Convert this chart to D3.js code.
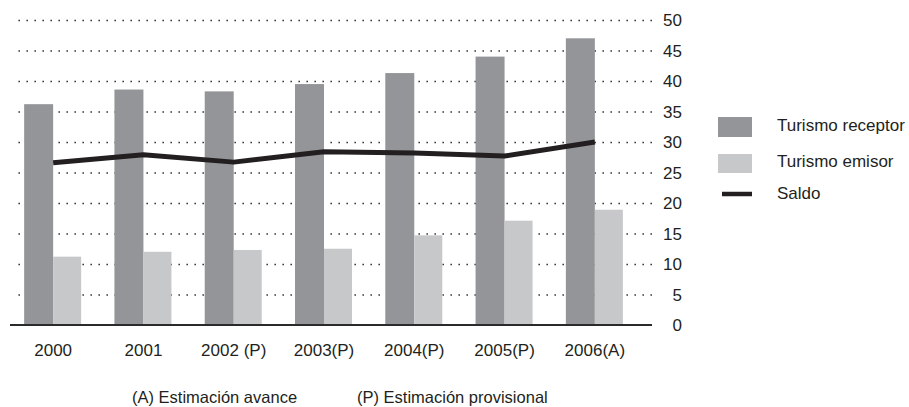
<!DOCTYPE html>
<html>
<head>
<meta charset="utf-8">
<script src="https://cdn.jsdelivr.net/npm/d3@7"></script>
<style>
  html, body { margin: 0; padding: 0; background: #ffffff; }
  svg { display: block; font-family: "Liberation Sans", Arial, Helvetica, sans-serif; }
</style>
</head>
<body>
<svg id="chart" width="909" height="407"></svg>
<script>
// ---- Data ----
const categories = ["2000", "2001", "2002 (P)", "2003(P)", "2004(P)", "2005(P)", "2006(A)"];
const receptor = [36.2, 38.6, 38.3, 39.5, 41.3, 44.0, 47.0];
const emisor   = [11.2, 12.0, 12.3, 12.5, 14.7, 17.1, 18.9];
const saldo    = [26.6, 27.9, 26.7, 28.4, 28.2, 27.7, 30.0];
const yTicks   = [0, 5, 10, 15, 20, 25, 30, 35, 40, 45, 50];
const seriesNames = ["Turismo receptor", "Turismo emisor", "Saldo"];
const footnotes = ["(A) Estimación avance", "(P) Estimación provisional"];

// ---- Styles ----
const colReceptor = "#939598";
const colEmisor = "#c7c8ca";
const colSaldo = "#231f20";
const colText = "#231f20";

const svg = d3.select("#chart");

const x = d3.scaleBand().domain(categories).range([8, 640]).paddingInner(0).paddingOuter(0);
const y = d3.scaleLinear().domain([0, 50]).range([325, 20]);

const gridLeft = 16, gridRight = 652;

// gridlines + right tick labels via axis
const yAxis = d3.axisRight(y)
  .tickValues(yTicks)
  .tickSize(-(gridRight - gridLeft))
  .tickFormat(d3.format("d"));

const gAxis = svg.append("g")
  .attr("transform", `translate(${gridRight},0)`)
  .call(yAxis);
gAxis.select(".domain").remove();
gAxis.selectAll(".tick line")
  .attr("stroke", "#3a3a3a")
  .attr("stroke-width", 1.6)
  .attr("stroke-dasharray", "1.6,6.4")
  .attr("opacity", d => d === 0 ? 0 : 1);
gAxis.selectAll(".tick text")
  .attr("x", 30)
  .attr("dy", "0.35em")
  .attr("text-anchor", "end")
  .attr("fill", colText)
  .style("font-size", "17px")
  .style("font-family", "'Liberation Sans', Arial, sans-serif");

const half = x.bandwidth() / 2;
const wDark = 29, wLight = 28;

// bars
svg.append("g").selectAll("rect")
  .data(categories)
  .join("rect")
  .attr("x", d => x(d) + half - wDark)
  .attr("y", (d, i) => y(receptor[i]))
  .attr("width", wDark)
  .attr("height", (d, i) => y(0) - y(receptor[i]))
  .attr("fill", colReceptor);

svg.append("g").selectAll("rect")
  .data(categories)
  .join("rect")
  .attr("x", d => x(d) + half)
  .attr("y", (d, i) => y(emisor[i]))
  .attr("width", wLight)
  .attr("height", (d, i) => y(0) - y(emisor[i]))
  .attr("fill", colEmisor);

// baseline
svg.append("line")
  .attr("x1", 10).attr("x2", gridRight)
  .attr("y1", y(0)).attr("y2", y(0))
  .attr("stroke", "#2a2a2a")
  .attr("stroke-width", 1.8);

// saldo line
const line = d3.line()
  .x((d, i) => x(categories[i]) + half)
  .y(d => y(d));
svg.append("path")
  .datum(saldo)
  .attr("d", line)
  .attr("fill", "none")
  .attr("stroke", colSaldo)
  .attr("stroke-width", 5)
  .attr("stroke-linejoin", "round");

// category axis
const xAxis = d3.axisBottom(x).tickSize(0).tickPadding(19);
const gx = svg.append("g")
  .attr("transform", `translate(0,${y(0)})`)
  .call(xAxis);
gx.select(".domain").remove();
gx.selectAll(".tick text")
  .attr("fill", colText)
  .style("font-size", "17px")
  .style("font-family", "'Liberation Sans', Arial, sans-serif");

// legend
const lg = svg.append("g");
const lx = 718, lw = 34, tx = 777;
lg.append("rect").attr("x", lx).attr("y", 117).attr("width", lw).attr("height", 20).attr("fill", colReceptor);
lg.append("rect").attr("x", lx).attr("y", 154).attr("width", lw).attr("height", 19).attr("fill", colEmisor);
lg.append("line").attr("x1", 722).attr("x2", 752).attr("y1", 194).attr("y2", 194)
  .attr("stroke", colSaldo).attr("stroke-width", 4.5);
const legendBaselines = [131, 167, 199];
lg.selectAll("text")
  .data(seriesNames)
  .join("text")
  .attr("x", tx)
  .attr("y", (d, i) => legendBaselines[i])
  .attr("fill", colText)
  .style("font-size", "17px")
  .text(d => d);

// footnotes
svg.append("text").attr("x", 132).attr("y", 403).attr("fill", colText)
  .style("font-size", "16.5px").text(footnotes[0]);
svg.append("text").attr("x", 357).attr("y", 403).attr("fill", colText)
  .style("font-size", "16.5px").text(footnotes[1]);
</script>
</body>
</html>
